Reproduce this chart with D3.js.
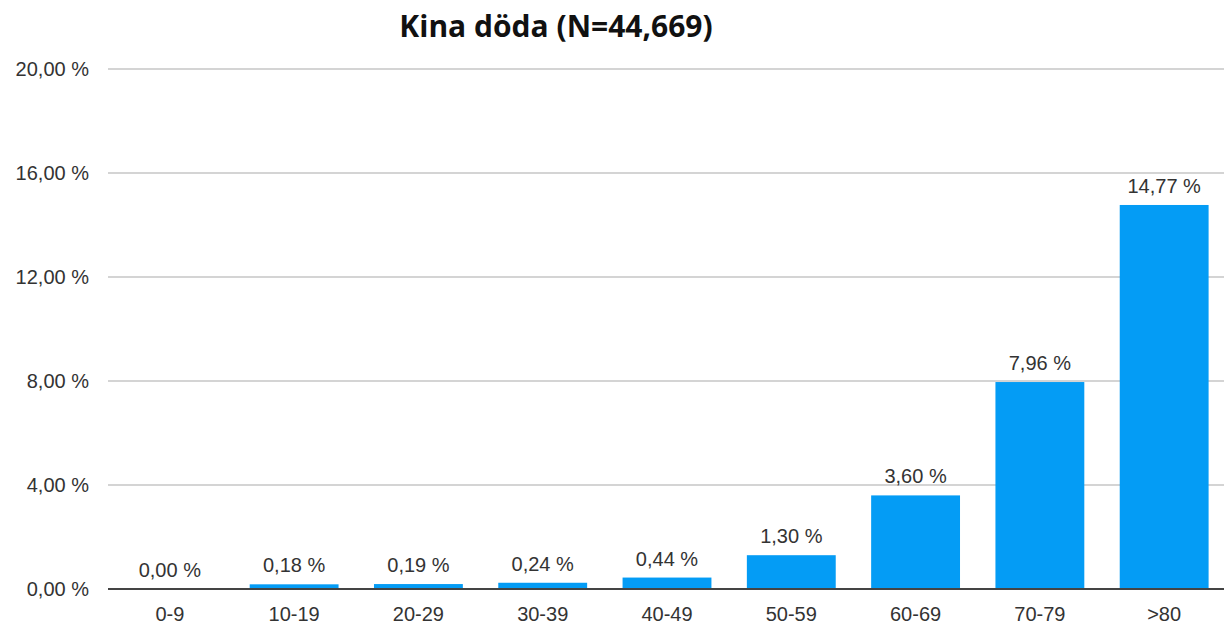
<!DOCTYPE html>
<html>
<head>
<meta charset="utf-8">
<script src="https://cdn.jsdelivr.net/npm/d3@7"></script>
<style>
  body { margin: 0; background: #fff; }
  text { font-family: "Liberation Sans", Arial, sans-serif; }
  text.title { font-family: "Open Sans", sans-serif; }
</style>
</head>
<body>
<svg id="chart" width="1224" height="626"></svg>
<script>
const ageGroups = ["0-9", "10-19", "20-29", "30-39", "40-49", "50-59", "60-69", "70-79", ">80"];
const deathRates = [0.00, 0.18, 0.19, 0.24, 0.44, 1.30, 3.60, 7.96, 14.77];
const yTicks = [0, 4, 8, 12, 16, 20];

const svg = d3.select("#chart");
const margin = { top: 69, right: 0, bottom: 37, left: 108 };
const width = 1226 - margin.left - margin.right;
const height = 626 - margin.top - margin.bottom;

const fmt = v => d3.format(".2f")(v).replace(".", ",") + " %";

const x = d3.scaleBand().domain(ageGroups).range([0, width]).paddingInner(0.285).paddingOuter(0.14);
const y = d3.scaleLinear().domain([0, 20]).range([height, 0]);

const g = svg.append("g").attr("transform", `translate(${margin.left},${margin.top})`);

// grid
g.selectAll(".grid")
  .data(yTicks.filter(t => t > 0))
  .enter().append("line")
  .attr("x1", 0).attr("x2", width)
  .attr("y1", d => y(d)).attr("y2", d => y(d))
  .attr("stroke", "#c6c6c6").attr("stroke-width", 1.5);

// y labels
g.selectAll(".ylab")
  .data(yTicks)
  .enter().append("text")
  .attr("x", -19).attr("y", d => y(d)).attr("dy", "0.35em")
  .attr("text-anchor", "end")
  .attr("font-size", 20).attr("fill", "#333")
  .text(d => fmt(d));

// bars
g.selectAll(".bar")
  .data(deathRates)
  .enter().append("rect")
  .attr("x", (d, i) => x(ageGroups[i]))
  .attr("width", x.bandwidth())
  .attr("y", d => y(d))
  .attr("height", d => height - y(d))
  .attr("fill", "#049cf5");

// baseline
g.append("line")
  .attr("x1", 0).attr("x2", width)
  .attr("y1", height).attr("y2", height)
  .attr("stroke", "#444").attr("stroke-width", 2);

// value labels
g.selectAll(".vlab")
  .data(deathRates)
  .enter().append("text")
  .attr("x", (d, i) => x(ageGroups[i]) + x.bandwidth() / 2)
  .attr("y", d => y(d) - 12)
  .attr("text-anchor", "middle")
  .attr("font-size", 20).attr("fill", "#333")
  .text(d => fmt(d));

// x labels
g.selectAll(".xlab")
  .data(ageGroups)
  .enter().append("text")
  .attr("x", d => x(d) + x.bandwidth() / 2)
  .attr("y", height + 32)
  .attr("text-anchor", "middle")
  .attr("font-size", 20).attr("fill", "#333")
  .text(d => d);

svg.append("text")
  .attr("class", "title")
  .attr("x", 556).attr("y", 37)
  .attr("text-anchor", "middle")
  .attr("font-weight", "bold")
  .attr("font-size", 30).attr("fill", "#111")
  .text("Kina döda (N=44,669)");
</script>
</body>
</html>
